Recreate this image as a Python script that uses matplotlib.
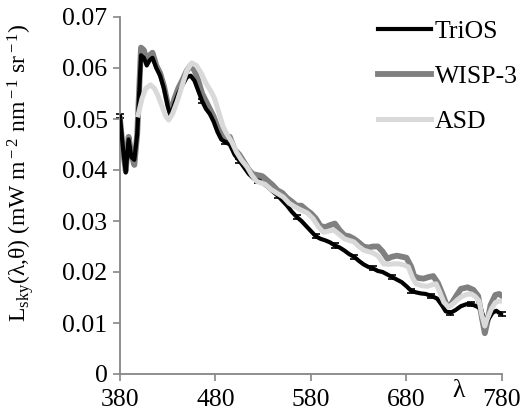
import matplotlib
matplotlib.use('Agg')
import matplotlib.pyplot as plt
import numpy as np

plt.rcParams['font.family'] = ['Liberation Serif', 'DejaVu Serif']
plt.rcParams['mathtext.fontset'] = 'custom'
plt.rcParams['mathtext.rm'] = 'Liberation Serif'
plt.rcParams['mathtext.it'] = 'Liberation Serif:italic'

# WISP-3 sky radiance
wl_wisp = [380, 383, 386, 389, 392, 395, 398, 402, 405, 408, 411, 414, 418, 422,
           426, 430, 433, 437, 441, 445, 450, 454, 458, 462, 466, 470, 474, 478,
           482, 486, 490, 495, 500, 505, 510, 515, 519, 524, 529, 534, 540, 545,
           550, 555, 560, 565, 570, 575, 580, 585, 590, 595, 600, 605, 610, 615,
           620, 625, 630, 635, 640, 645, 650, 655, 660, 665, 670, 675, 680, 685,
           688, 693, 698, 703, 708, 713, 718, 722, 726, 731, 737, 744, 750, 755,
           759, 762, 765, 768, 773, 777, 780]
l_wisp = [0.0500, 0.0440, 0.0398, 0.0465, 0.0430, 0.0410, 0.0470, 0.0640, 0.0635,
          0.0615, 0.0625, 0.0630, 0.0605, 0.0590, 0.0565, 0.0530, 0.0512, 0.0540,
          0.0560, 0.0575, 0.0595, 0.0605, 0.0595, 0.0575, 0.0550, 0.0535, 0.0520,
          0.0505, 0.0485, 0.0470, 0.0465, 0.0465, 0.0440, 0.0430, 0.0415, 0.0400,
          0.0392, 0.0390, 0.0388, 0.0380, 0.0370, 0.0360, 0.0355, 0.0345, 0.0338,
          0.0330, 0.0330, 0.0322, 0.0315, 0.0305, 0.0290, 0.0288, 0.0292, 0.0295,
          0.0282, 0.0272, 0.0270, 0.0265, 0.0258, 0.0250, 0.0248, 0.0250, 0.0250,
          0.0240, 0.0226, 0.0230, 0.0232, 0.0230, 0.0228, 0.0210, 0.0192, 0.0188,
          0.0187, 0.0190, 0.0192, 0.0178, 0.0155, 0.0135, 0.0135, 0.0150, 0.0167,
          0.0170, 0.0165, 0.0153, 0.0110, 0.0080, 0.0105, 0.0135, 0.0155, 0.0157,
          0.0153]

# TriOS sky radiance
wl_trios = [380, 383, 386, 389, 392, 395, 398, 402, 405, 408, 411, 414, 418, 422,
            426, 430, 433, 437, 441, 445, 450, 454, 458, 462, 466, 470, 474, 478,
            482, 486, 490, 495, 500, 505, 510, 515, 519, 524, 529, 534, 540, 545,
            550, 555, 560, 565, 570, 575, 580, 585, 590, 595, 600, 605, 610, 615,
            620, 625, 630, 635, 640, 645, 650, 655, 660, 665, 670, 675, 680, 685,
            690, 695, 700, 706, 712, 717, 721, 726, 731, 737, 743, 748, 754, 758,
            761, 763, 766, 770, 774, 777, 780]
l_trios = [0.0505, 0.0445, 0.0395, 0.0460, 0.0425, 0.0420, 0.0470, 0.0625, 0.0620,
           0.0605, 0.0615, 0.0620, 0.0600, 0.0585, 0.0560, 0.0525, 0.0505, 0.0530,
           0.0550, 0.0565, 0.0582, 0.0585, 0.0575, 0.0555, 0.0535, 0.0520, 0.0510,
           0.0495, 0.0475, 0.0460, 0.0455, 0.0450, 0.0430, 0.0418, 0.0405, 0.0392,
           0.0385, 0.0378, 0.0375, 0.0368, 0.0358, 0.0350, 0.0340, 0.0330, 0.0318,
           0.0308, 0.0300, 0.0290, 0.0280, 0.0270, 0.0265, 0.0262, 0.0258, 0.0252,
           0.0248, 0.0242, 0.0235, 0.0230, 0.0222, 0.0215, 0.0210, 0.0207, 0.0202,
           0.0200, 0.0195, 0.0190, 0.0185, 0.0180, 0.0172, 0.0163, 0.0160, 0.0158,
           0.0157, 0.0153, 0.0148, 0.0135, 0.0123, 0.0120, 0.0125, 0.0133, 0.0137,
           0.0137, 0.0132, 0.0127, 0.0110, 0.0098, 0.0108, 0.0120, 0.0124, 0.0120,
           0.0118]
# wavelengths where TriOS has error bars drawn, and their half-width
err_wl = [380, 466, 490, 505, 524, 545, 565, 585, 605, 625, 645, 665, 685, 706,
          726, 748, 780]
err_val = 0.0004

# ASD sky radiance
wl_asd = [399, 403, 407, 412, 416, 420, 424, 428, 431, 435, 440, 445, 450, 455,
          460, 465, 470, 475, 479, 484, 488, 492, 497, 502, 507, 513, 518, 523,
          527, 532, 538, 544, 551, 557, 563, 569, 576, 582, 588, 593, 598, 604,
          610, 615, 620, 625, 630, 635, 640, 644, 650, 656, 662, 667, 672, 677,
          682, 686, 690, 696, 702, 707, 711, 715, 719, 724, 729, 733, 737, 743,
          748, 752, 756, 759, 762, 765, 769, 773, 777, 780]
l_asd = [0.0508, 0.0540, 0.0560, 0.0567, 0.0560, 0.0545, 0.0525, 0.0505, 0.0498,
         0.0510, 0.0535, 0.0565, 0.0595, 0.0610, 0.0605, 0.0590, 0.0570, 0.0555,
         0.0540, 0.0510, 0.0485, 0.0470, 0.0455, 0.0435, 0.0420, 0.0406, 0.0390,
         0.0378, 0.0375, 0.0372, 0.0362, 0.0355, 0.0347, 0.0335, 0.0328, 0.0322,
         0.0316, 0.0305, 0.0288, 0.0278, 0.0280, 0.0282, 0.0273, 0.0265, 0.0262,
         0.0259, 0.0250, 0.0243, 0.0240, 0.0238, 0.0232, 0.0216, 0.0215, 0.0216,
         0.0216, 0.0214, 0.0210, 0.0190, 0.0177, 0.0173, 0.0172, 0.0175, 0.0177,
         0.0160, 0.0141, 0.0131, 0.0138, 0.0145, 0.0151, 0.0156, 0.0157, 0.0152,
         0.0143, 0.0115, 0.0094, 0.0110, 0.0128, 0.0140, 0.0143, 0.0143]

xticks = [380, 480, 580, 680, 780]
yticks = [0, 0.01, 0.02, 0.03, 0.04, 0.05, 0.06, 0.07]
ytick_labels = ['0', '0.01', '0.02', '0.03', '0.04', '0.05', '0.06', '0.07']

fs = 18.5
axis_grey = '#868686'

fig = plt.figure(figsize=(5.22, 4.18), dpi=100)
ax = fig.add_axes([120 / 522, 1 - 374 / 418, 382 / 522, 357 / 418])

wt = np.array(wl_trios)
lt = np.array(l_trios)
mask = np.isin(wt, err_wl)
ax.errorbar(wt[mask], lt[mask], yerr=err_val, fmt='none', ecolor='black',
            elinewidth=1.0, capsize=3, capthick=1.2, zorder=1, clip_on=False)

h_trios, = ax.plot(wl_trios, l_trios, color='black', lw=3.0, label='TriOS',
                   zorder=3, solid_joinstyle='round')
h_wisp, = ax.plot(wl_wisp, l_wisp, color='#808080', lw=4.2, label='WISP-3',
                  zorder=2, solid_joinstyle='round')
h_asd, = ax.plot(wl_asd, l_asd, color='#d9d9d9', lw=3.6, label='ASD',
                 zorder=4, solid_joinstyle='round')

ax.set_xlim(380, 780)
ax.set_ylim(0, 0.07)
ax.set_xticks(xticks)
ax.set_xticklabels([str(v) for v in xticks])
ax.set_yticks(yticks)
ax.set_yticklabels(ytick_labels)

for side in ['top', 'right']:
    ax.spines[side].set_visible(False)
for side in ['left', 'bottom']:
    ax.spines[side].set_color(axis_grey)
    ax.spines[side].set_linewidth(1.3)
ax.tick_params(axis='both', direction='out', length=5, width=1.2,
               color=axis_grey, labelsize=fs, labelcolor='black')
ax.tick_params(axis='x', pad=6)
ax.tick_params(axis='y', pad=4)

ax.set_ylabel(r'L$_{\rm sky}$(λ,θ) (mW m$^{\rm -2}$ nm$^{\rm -1}$ sr$^{\rm -1}$)',
              fontsize=17)
ax.yaxis.set_label_coords(-0.22, 0.565)

fig.text(459 / 522, 1 - 391 / 418, 'λ', fontsize=fs, ha='center', va='center')

ax.legend(handles=[h_trios, h_wisp, h_asd], loc='upper left',
          bbox_to_anchor=(378 / 522, 1 - 20 / 418), bbox_transform=fig.transFigure,
          frameon=False, fontsize=fs, handlelength=2.05, handletextpad=0.15,
          labelspacing=0.85, borderpad=0, borderaxespad=0)

fig.savefig('out.png', dpi=100)
